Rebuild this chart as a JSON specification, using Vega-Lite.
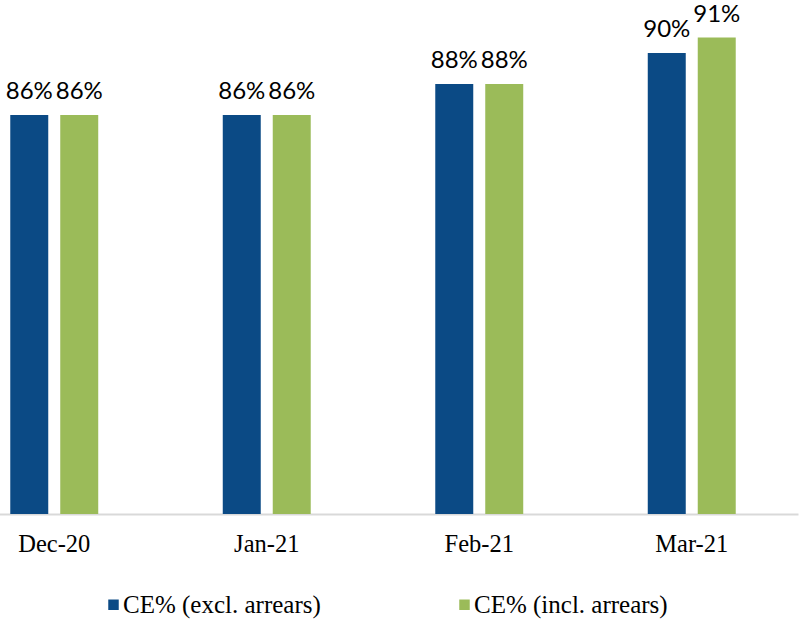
{
  "$schema": "https://vega.github.io/schema/vega-lite/v6.json",
  "width": 801,
  "height": 514,
  "autosize": {"type": "none"},
  "padding": {"left": 0, "top": 0, "right": 0, "bottom": 105},
  "background": "white",
  "config": {"view": {"stroke": null}, "font": "Liberation Serif, DejaVu Serif, serif"},
  "data": {"values": [
    {"month": "Dec-20", "series": "CE% (excl. arrears)", "value": 0.86},
    {"month": "Dec-20", "series": "CE% (incl. arrears)", "value": 0.86},
    {"month": "Jan-21", "series": "CE% (excl. arrears)", "value": 0.86},
    {"month": "Jan-21", "series": "CE% (incl. arrears)", "value": 0.86},
    {"month": "Feb-21", "series": "CE% (excl. arrears)", "value": 0.88},
    {"month": "Feb-21", "series": "CE% (incl. arrears)", "value": 0.88},
    {"month": "Mar-21", "series": "CE% (excl. arrears)", "value": 0.90},
    {"month": "Mar-21", "series": "CE% (incl. arrears)", "value": 0.91}
  ]},
  "encoding": {
    "x": {
      "field": "month", "type": "nominal", "sort": null,
      "scale": {"range": [-52, 798], "paddingInner": 0.586, "paddingOuter": 0.293},
      "axis": {"title": null, "ticks": false, "labelAngle": 0, "labelFontSize": 24.5, "labelColor": "#000000", "labelPadding": 18, "labelLimit": 0, "domainColor": "#d9d9d9", "domainWidth": 2, "labelFont": "Liberation Serif, DejaVu Serif, serif"}
    },
    "xOffset": {"field": "series", "type": "nominal", "scale": {"paddingInner": 0.24, "paddingOuter": 0}},
    "y": {
      "field": "value", "type": "quantitative",
      "scale": {"domain": [0.6026, 0.9342], "zero": false, "nice": false},
      "axis": null
    }
  },
  "layer": [
    {
      "mark": {"type": "bar", "clip": true},
      "encoding": {
        "y2": {"datum": 0.6026},
        "color": {
          "field": "series", "type": "nominal",
          "scale": {"domain": ["CE% (excl. arrears)", "CE% (incl. arrears)"], "range": ["#0B4A85", "#9BBB59"]},
          "legend": {
            "title": null, "orient": "none", "direction": "horizontal",
            "legendX": 101, "legendY": 592, "padding": 0,
            "symbolType": "square", "symbolSize": 110, "symbolStrokeWidth": 0,
            "labelFontSize": 25, "labelFont": "Liberation Serif, DejaVu Serif, serif", "labelColor": "#000000",
            "labelLimit": 0, "labelOffset": -3, "columnPadding": 131
          }
        }
      }
    },
    {
      "mark": {"type": "text", "baseline": "alphabetic", "dy": -16, "fontSize": 24, "font": "Lato", "color": "#000000"},
      "encoding": {"text": {"field": "value", "type": "quantitative", "format": ".0%"}}
    }
  ]
}
